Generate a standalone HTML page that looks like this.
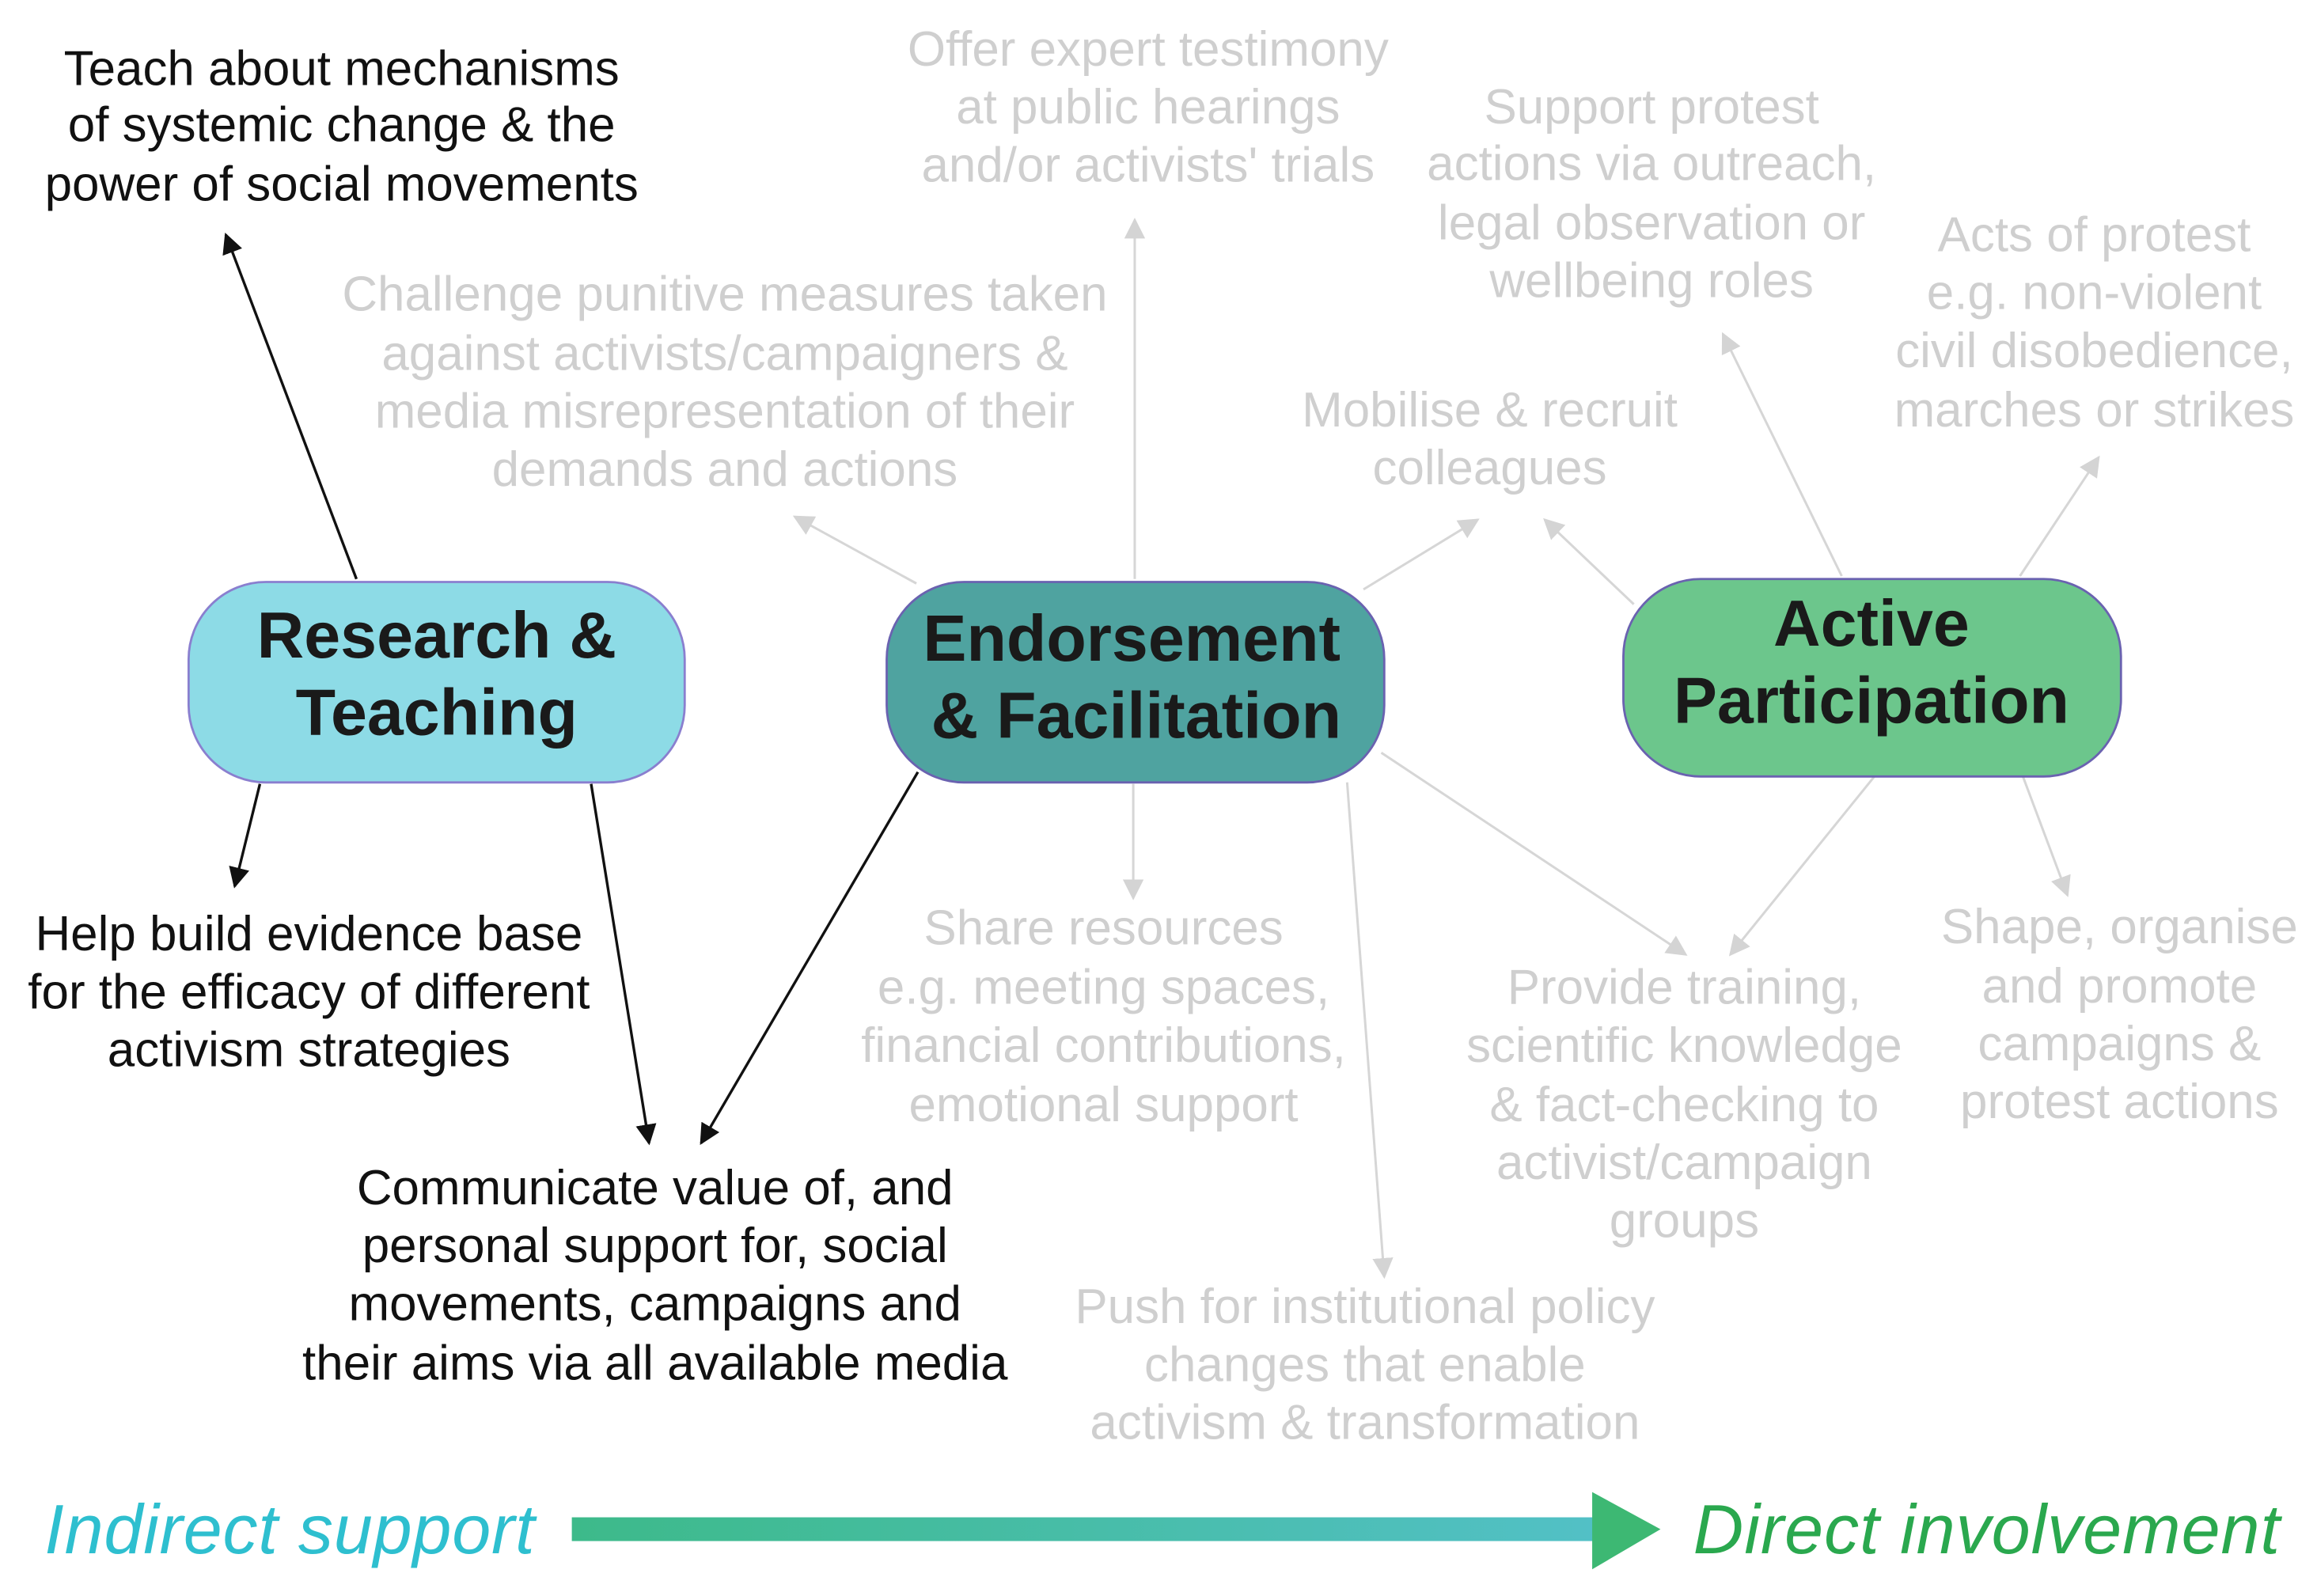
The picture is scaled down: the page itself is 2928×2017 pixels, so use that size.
<!DOCTYPE html>
<html><head><meta charset="utf-8">
<style>
html,body{margin:0;padding:0;background:#fff;}
svg{display:block;}
text{font-family:"Liberation Sans",sans-serif;}
</style></head>
<body>
<svg width="2928" height="2017" viewBox="0 0 1560 1075" preserveAspectRatio="none">
<defs>
<marker id="ab" viewBox="0 0 10 10" refX="9" refY="5" markerWidth="14" markerHeight="14" markerUnits="userSpaceOnUse" orient="auto"><path d="M0,0 L10,5 L0,10 z" fill="#111"/></marker>
<marker id="ag" viewBox="0 0 10 10" refX="9" refY="5" markerWidth="14" markerHeight="14" markerUnits="userSpaceOnUse" orient="auto"><path d="M0,0 L10,5 L0,10 z" fill="#d4d4d4"/></marker>
<linearGradient id="bar" x1="0" x2="1" y1="0" y2="0"><stop offset="0" stop-color="#3dba8a"/><stop offset="1" stop-color="#52c0c6"/></linearGradient>
</defs>

<g stroke="#d6d6d6" stroke-width="1.6" fill="none" marker-end="url(#ag)">
<line x1="617" y1="393" x2="535" y2="348"/>
<line x1="764" y1="390" x2="764" y2="148"/>
<line x1="918" y1="397" x2="995" y2="350"/>
<line x1="1100" y1="407" x2="1040" y2="350"/>
<line x1="1240" y1="388" x2="1160" y2="225"/>
<line x1="1360" y1="388" x2="1413" y2="308"/>
<line x1="763" y1="528" x2="763" y2="605"/>
<line x1="930" y1="507" x2="1135" y2="643"/>
<line x1="1262" y1="523" x2="1165" y2="643"/>
<line x1="907" y1="527" x2="932" y2="860"/>
<line x1="1362" y1="523" x2="1392" y2="603"/>
</g>
<g stroke="#111" stroke-width="1.8" fill="none" marker-end="url(#ab)">
<line x1="240" y1="390" x2="152" y2="158"/>
<line x1="175" y1="528" x2="158" y2="597"/>
<line x1="398" y1="528" x2="437" y2="770"/>
<line x1="618" y1="520" x2="472" y2="770"/>
</g>

<g>
<rect x="127" y="392" width="334" height="135" rx="52" fill="#8ddbe6" stroke="#8a7fcf" stroke-width="1.5"/>
<text x="294" y="428" font-size="44" font-weight="bold" text-anchor="middle" dominant-baseline="central" fill="#1a1a1a">Research &amp;</text>
<text x="294" y="480" font-size="44" font-weight="bold" text-anchor="middle" dominant-baseline="central" fill="#1a1a1a">Teaching</text>
</g>
<g>
<rect x="597" y="392" width="335" height="135" rx="52" fill="#4fa3a0" stroke="#6a62b0" stroke-width="1.5"/>
<text x="762" y="430" font-size="44" font-weight="bold" text-anchor="middle" dominant-baseline="central" fill="#1a1a1a">Endorsement</text>
<text x="765" y="482" font-size="44" font-weight="bold" text-anchor="middle" dominant-baseline="central" fill="#1a1a1a">&amp; Facilitation</text>
</g>
<g>
<rect x="1093" y="390" width="335" height="133" rx="52" fill="#6cc68c" stroke="#6a62b0" stroke-width="1.5"/>
<text x="1260" y="420" font-size="44" font-weight="bold" text-anchor="middle" dominant-baseline="central" fill="#1a1a1a">Active</text>
<text x="1260" y="472" font-size="44" font-weight="bold" text-anchor="middle" dominant-baseline="central" fill="#1a1a1a">Participation</text>
</g>

<g font-size="33" text-anchor="middle" dominant-baseline="central" fill="#111">
<text><tspan x="230" y="46">Teach about mechanisms</tspan><tspan x="230" y="84">of systemic change &amp; the</tspan><tspan x="230" y="124">power of social movements</tspan></text>
<text><tspan x="208" y="629">Help build evidence base</tspan><tspan x="208" y="668">for the efficacy of different</tspan><tspan x="208" y="707">activism strategies</tspan></text>
<text><tspan x="441" y="800">Communicate value of, and</tspan><tspan x="441" y="839">personal support for, social</tspan><tspan x="441" y="878">movements, campaigns and</tspan><tspan x="441" y="918">their aims via all available media</tspan></text>
</g>
<g font-size="33" text-anchor="middle" dominant-baseline="central" fill="#cfcfcf">
<text><tspan x="773" y="33">Offer expert testimony</tspan><tspan x="773" y="72">at public hearings</tspan><tspan x="773" y="111">and/or activists' trials</tspan></text>
<text><tspan x="1112" y="72">Support protest</tspan><tspan x="1112" y="110">actions via outreach,</tspan><tspan x="1112" y="150">legal observation or</tspan><tspan x="1112" y="189">wellbeing roles</tspan></text>
<text><tspan x="1410" y="158">Acts of protest</tspan><tspan x="1410" y="197">e.g. non-violent</tspan><tspan x="1410" y="236">civil disobedience,</tspan><tspan x="1410" y="276">marches or strikes</tspan></text>
<text><tspan x="488" y="198">Challenge punitive measures taken</tspan><tspan x="488" y="238">against activists/campaigners &amp;</tspan><tspan x="488" y="277">media misrepresentation of their</tspan><tspan x="488" y="316">demands and actions</tspan></text>
<text><tspan x="1003" y="276">Mobilise &amp; recruit</tspan><tspan x="1003" y="315">colleagues</tspan></text>
<text><tspan x="743" y="625">Share resources</tspan><tspan x="743" y="665">e.g. meeting spaces,</tspan><tspan x="743" y="704">financial contributions,</tspan><tspan x="743" y="744">emotional support</tspan></text>
<text><tspan x="1134" y="665">Provide training,</tspan><tspan x="1134" y="704">scientific knowledge</tspan><tspan x="1134" y="744">&amp; fact-checking to</tspan><tspan x="1134" y="783">activist/campaign</tspan><tspan x="1134" y="822">groups</tspan></text>
<text><tspan x="1427" y="624">Shape, organise</tspan><tspan x="1427" y="664">and promote</tspan><tspan x="1427" y="703">campaigns &amp;</tspan><tspan x="1427" y="742">protest actions</tspan></text>
<text><tspan x="919" y="880">Push for institutional policy</tspan><tspan x="919" y="919">changes that enable</tspan><tspan x="919" y="958">activism &amp; transformation</tspan></text>
</g>

<g>
<text x="30" y="1030" font-size="47" font-style="italic" dominant-baseline="central" fill="#2ebfcf" textLength="330">Indirect support</text>
<rect x="385" y="1022" width="690" height="16" fill="url(#bar)"/>
<path d="M1072,1005 L1118,1030 L1072,1057 z" fill="#3db873"/>
<text x="1140" y="1030" font-size="47" font-style="italic" dominant-baseline="central" fill="#2aa84e" textLength="395">Direct involvement</text>
</g>
</svg>
</body></html>
